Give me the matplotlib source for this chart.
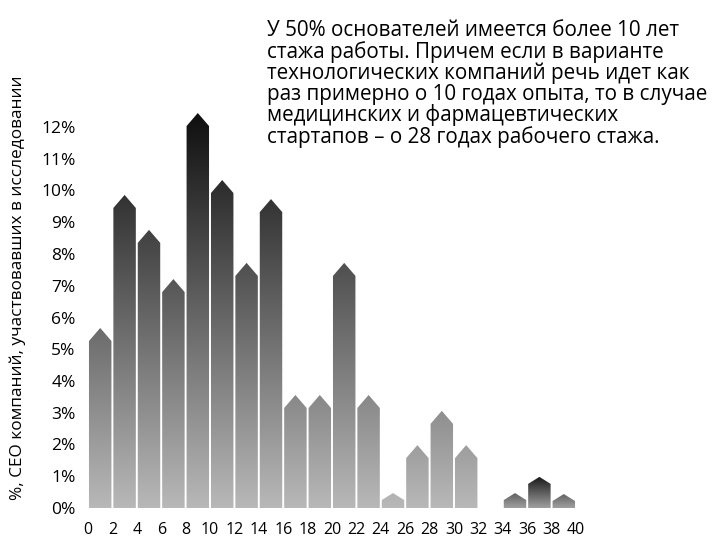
import numpy as np
import matplotlib.pyplot as plt
from matplotlib.path import Path
from matplotlib.patches import PathPatch

plt.rcParams['font.family'] = ['Open Sans', 'DejaVu Sans']

# стаж работы, лет (границы двухлетних интервалов)
years = list(range(0, 42, 2))
# доля CEO в каждом интервале, % (высота столбца вместе с «крышей»)
share = [5.67, 9.86, 8.76, 7.21, 12.44, 10.33, 7.72, 9.73, 3.56, 3.56,
         7.72, 3.56, 0.47, 1.98, 3.06, 1.98, 0.0, 0.47, 0.98, 0.44]
y_ticks = list(range(0, 13))
y_labels = [f'{t}%' for t in y_ticks]

note = ('У 50% основателей имеется более 10 лет\n'
        'стажа работы. Причем если в варианте\n'
        'технологических компаний речь идет как\n'
        'раз примерно о 10 годах опыта, то в случае\n'
        'медицинских и фармацевтических\n'
        'стартапов – о 28 годах рабочего стажа.')
y_title = '%, СЕО компаний, участвовавших в исследовании'

fig = plt.figure(figsize=(7.15, 5.37), dpi=100)
ax = fig.add_axes([88 / 715, 29 / 537, 488 / 715, 412.75 / 537])
ax.set_xlim(0, 40)
ax.set_ylim(0, 13)


def house(x0, w, h):
    # столбец с треугольной «крышей»
    roof = 0.41 if h > 1.5 else 0.22
    verts = [(x0, 0), (x0, h - roof), (x0 + w / 2, h),
             (x0 + w, h - roof), (x0 + w, 0), (x0, 0)]
    return Path(verts, closed=True)


main, tail = [], []
for i, h in enumerate(share):
    if h <= 0:
        continue
    p = house(years[i] + 0.08, 1.84, h)
    (tail if years[i] >= 34 else main).append(p)


def gradient_fill(paths, extent, bottom, top):
    vals = np.linspace(bottom, top, 256) / 255
    img = np.repeat(vals[:, None], 3, axis=1)[:, None, :]
    im = ax.imshow(img, extent=extent, origin='lower', aspect='auto',
                   interpolation='bilinear', zorder=2)
    clip = PathPatch(Path.make_compound_path(*paths), transform=ax.transData,
                     facecolor='none', edgecolor='none')
    ax.add_patch(clip)
    im.set_clip_path(clip)


gradient_fill(main, (0, 40, 0, 12.5), 184, 14)
gradient_fill(tail, (34, 40, 0, 0.98), 160, 22)
ax.set_xlim(0, 40)
ax.set_ylim(0, 13)

ax.set_xticks(years)
ax.set_xticklabels([str(y) for y in years], fontsize=11.5)
ax.set_yticks(y_ticks)
ax.set_yticklabels(y_labels, fontsize=12.5)
ax.tick_params(length=0)
ax.tick_params(axis='x', pad=10)
ax.tick_params(axis='y', pad=9)
for s in ax.spines.values():
    s.set_visible(False)

fig.text(18 / 715, 1 - 288 / 537, y_title, rotation=90, fontsize=12.4,
         ha='center', va='center')
fig.text(267 / 715, 1 - 20 / 537, note, fontsize=14.9, ha='left', va='top',
         linespacing=0.985)

fig.savefig('out.png', dpi=100)
